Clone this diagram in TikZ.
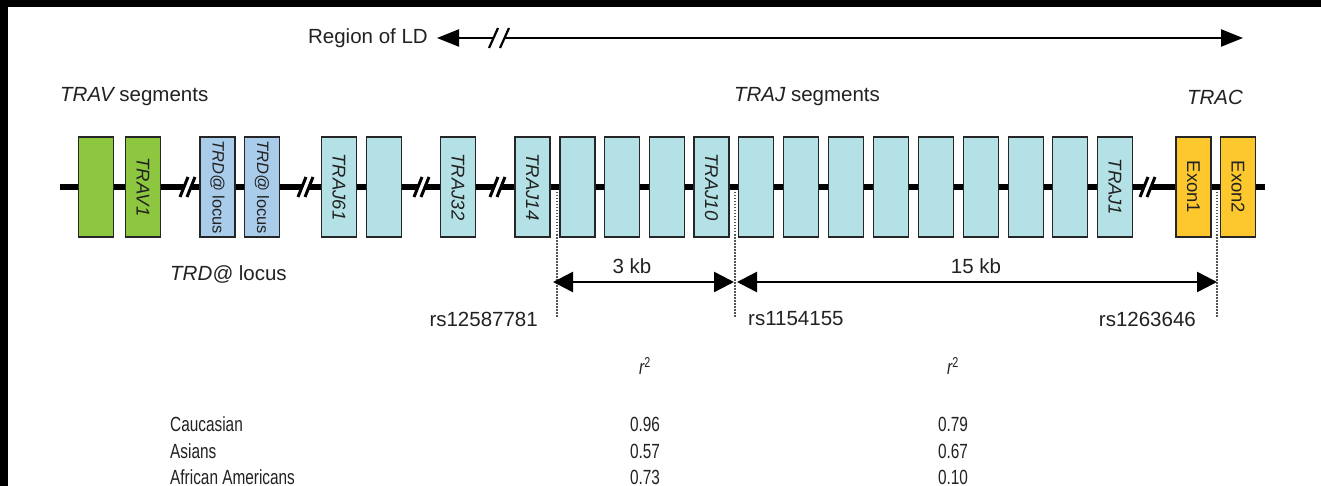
\documentclass[tikz,border=0pt]{standalone}
\usepackage{fontspec}
\setmainfont{Liberation Sans}
\newfontfamily\narrowfont[FakeStretch=0.75]{Liberation Sans}
\usetikzlibrary{arrows.meta}
\definecolor{vgreen}{HTML}{8DC63F}
\definecolor{dblue}{HTML}{A9CCEB}
\definecolor{jcyan}{HTML}{B3E1E5}
\definecolor{exony}{HTML}{FDC82E}
\definecolor{txt}{HTML}{222222}
\definecolor{dotc}{HTML}{555555}
\tikzset{
  seg/.style={draw=black!85, line width=1.1pt, rotate=-90, minimum width=100pt,
    minimum height=35pt, inner sep=0pt, text=txt, font=\fontsize{18.5pt}{20pt}\selectfont},
  vseg/.style={seg, fill=vgreen},
  dseg/.style={seg, fill=dblue, font=\fontsize{16.5pt}{18pt}\selectfont},
  jseg/.style={seg, fill=jcyan},
  eseg/.style={seg, fill=exony},
  lbl/.style={inner sep=0pt, text=txt, font=\fontsize{20.5pt}{24pt}\selectfont},
  tbl/.style={inner sep=0pt, text=txt, font=\narrowfont\fontsize{20.5pt}{24pt}\selectfont},
  dotline/.style={draw=dotc, line width=2pt, dash pattern=on 1.5pt off 1.5pt},
  dimarrow/.style={draw=black, line width=2.5pt, {Triangle[length=20pt,width=20pt]}-{Triangle[length=20pt,width=20pt]}},
  ldarrow/.style={draw=black, line width=2.2pt, {Triangle[length=22pt,width=17pt]}-{Triangle[length=22pt,width=17pt]}},
  brk/.pic={
    \fill[white] (-7,10)--(1,-10)--(8,-10)--(0,10)--cycle;
    \draw[line width=3pt] (-7,10)--(1,-10) (0,10)--(8,-10);
  },
  brksmall/.pic={
    \fill[white] (-10,10)--(-1,-10)--(10,-10)--(1,10)--cycle;
    \draw[line width=2.2pt] (-10,10)--(-1,-10) (1,10)--(10,-10);
  }
}
\begin{document}
\begin{tikzpicture}[x=1pt,y=-1pt]
\fill[black] (0,0) rectangle (1321,486);
\fill[white] (8,7) rectangle (1321,486);
\useasboundingbox (0,0) rectangle (1321,486);

% Region of LD
\node[lbl, anchor=east] (ld) at (428,38) {Region of LD};
\coordinate (ldL) at (437,38);
\coordinate (ldR) at (1243,38);
\draw[ldarrow] (ldL) -- (ldR);
\pic at (499,38) {brksmall};

% headings
\node[lbl, anchor=west] (travh) at (60,97) {\itshape TRAV\upshape\ segments};
\node[lbl] (trajh) at (807,97) {\itshape TRAJ\upshape\ segments};
\node[lbl, anchor=east] (trach) at (1243,97) {\itshape TRAC};

% backbone
\coordinate (bbL) at (60,187);
\coordinate (bbR) at (1265,187);
\draw[line width=6.5pt] (bbL) -- (bbR);

% segments
\node[vseg] (v2) at (96,187) {};
\node[vseg] (v1) at (143,187) {\itshape TRAV1};
\node[dseg] (d1) at (217.5,187) {\itshape TRD@\upshape\ locus};
\node[dseg] (d2) at (262,187) {\itshape TRD@\upshape\ locus};
\node[jseg] (j61) at (339,187) {\itshape TRAJ61};
\node[jseg] (j60) at (384,187) {};
\node[jseg] (j32) at (458,187) {\itshape TRAJ32};
\node[jseg] (j14) at (532.5,187) {\itshape TRAJ14};
\node[jseg] (j13) at (577.5,187) {};
\node[jseg] (j12) at (622,187) {};
\node[jseg] (j11) at (667,187) {};
\node[jseg] (j10) at (711.5,187) {\itshape TRAJ10};
\node[jseg] (j9) at (756,187) {};
\node[jseg] (j8) at (801,187) {};
\node[jseg] (j7) at (846,187) {};
\node[jseg] (j6) at (891,187) {};
\node[jseg] (j5) at (936,187) {};
\node[jseg] (j4) at (981,187) {};
\node[jseg] (j3) at (1026,187) {};
\node[jseg] (j2) at (1070,187) {};
\node[jseg] (j1) at (1115,187) {\itshape TRAJ1};
\node[eseg] (e1) at (1193.5,187) {Exon1};
\node[eseg] (e2) at (1238,187) {Exon2};

% breaks
\pic at (187,187) {brk};
\pic at (305,187) {brk};
\pic at (421,187) {brk};
\pic at (497,187) {brk};
\pic at (1147,187) {brk};

% dotted lines
\coordinate (s1t) at (557,192); \coordinate (s1b) at (557,317);
\coordinate (s2t) at (735,192); \coordinate (s2b) at (735,317);
\coordinate (s3t) at (1217,192); \coordinate (s3b) at (1217,317);
\draw[dotline] (s1t) -- (s1b);
\draw[dotline] (s2t) -- (s2b);
\draw[dotline] (s3t) -- (s3b);

% distance arrows
\coordinate (a1) at (553,282);
\coordinate (a2) at (734,282);
\coordinate (a3) at (737,282);
\coordinate (a4) at (1217,282);
\draw[dimarrow] (a1) -- (a2);
\draw[dimarrow] (a3) -- (a4);
\node[lbl] (kb3) at (632,266) {3 kb};
\node[lbl] (kb15) at (976,266) {15 kb};

\node[lbl, anchor=west] (trdl) at (170,274) {\itshape TRD@\upshape\ locus};

% SNP labels
\node[lbl, anchor=east] (rs1) at (538,319) {rs12587781};
\node[lbl, anchor=west] (rs2) at (748,319) {rs1154155};
\node[lbl, anchor=east] (rs3) at (1196,319) {rs1263646};

% table
\node[tbl] (r1) at (645,366) {\itshape r\upshape\textsuperscript{2}};
\node[tbl] (r2) at (953,366) {\itshape r\upshape\textsuperscript{2}};
\node[tbl, anchor=west] (c1) at (170,424) {Caucasian};
\node[tbl] (c2) at (645,424) {0.96};
\node[tbl] (c3) at (953,424) {0.79};
\node[tbl, anchor=west] (as1) at (170,451) {Asians};
\node[tbl] (as2) at (645,451) {0.57};
\node[tbl] (as3) at (953,451) {0.67};
\node[tbl, anchor=west] (af1) at (170,477) {African Americans};
\node[tbl] (af2) at (645,477) {0.73};
\node[tbl] (af3) at (953,477) {0.10};
\end{tikzpicture}
\end{document}
